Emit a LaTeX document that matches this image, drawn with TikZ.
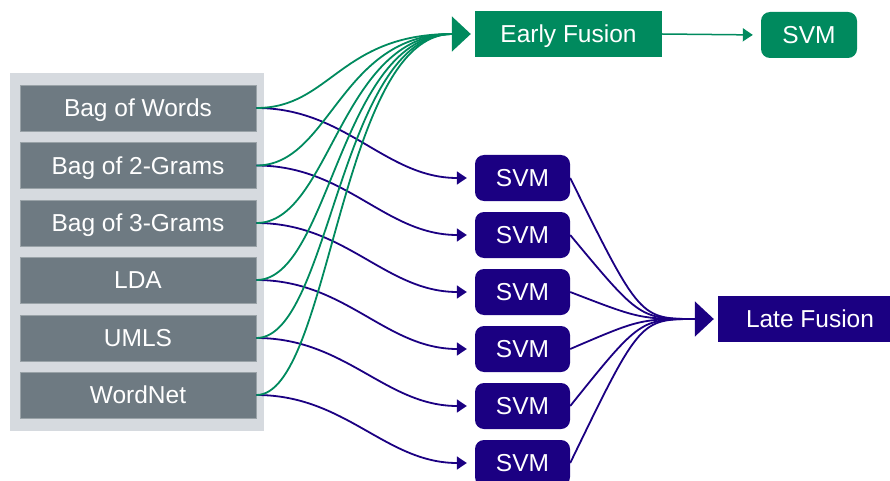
\documentclass[tikz,border=0pt]{standalone}
\usepackage{fontspec}
\setmainfont{Liberation Sans}
\usetikzlibrary{arrows.meta}
\definecolor{efgreen}{HTML}{008A5E}
\definecolor{lfblue}{HTML}{1B0082}
\definecolor{featgray}{HTML}{6E7A82}
\definecolor{contgray}{HTML}{D6DADF}
\tikzset{
  txt/.style={text=white,font=\fontsize{24.5}{28}\selectfont,inner sep=0pt,anchor=center,text height=17.5pt,text depth=0pt},
  feat/.style={txt,fill=featgray,draw=featgray!70!white,line width=0.8pt,minimum width=236pt,minimum height=46pt},
  gbox/.style={txt,fill=efgreen,minimum height=46pt},
  bbox/.style={txt,fill=lfblue,minimum height=46pt},
  svmbox/.style={bbox,rounded corners=9pt,minimum width=95pt},
  gline/.style={draw=efgreen,line width=1.8pt},
  bline/.style={draw=lfblue,line width=1.8pt},
  smallhead/.style={-{Triangle[length=10pt 0,width=13pt 0]}},
  bighead/.style={-{Triangle[length=19pt 0,width=35pt 0]}}
}
\begin{document}
\begin{tikzpicture}[x=1pt,y=-1pt]
\useasboundingbox (0,0) rectangle (890,481);
\fill[contgray] (10,73) rectangle (264,431);
\node[feat] (f1) at (138,108) {Bag of Words};
\node[feat] (f2) at (138,165.5) {Bag of 2-Grams};
\node[feat] (f3) at (138,223) {Bag of 3-Grams};
\node[feat] (f4) at (138,280) {LDA};
\node[feat] (f5) at (138,338) {UMLS};
\node[feat] (f6) at (138,395) {WordNet};

\node[gbox,minimum width=187pt] (ef) at (568.5,34) {Early Fusion};
\node[gbox,rounded corners=9pt,minimum width=96pt] (svmT) at (809,35) {SVM};
\node[bbox,minimum width=184pt] (lf) at (810,319) {Late Fusion};

\node[svmbox] (s1) at (522.5,178) {SVM};
\node[svmbox] (s2) at (522.5,235) {SVM};
\node[svmbox] (s3) at (522.5,292) {SVM};
\node[svmbox] (s4) at (522.5,349) {SVM};
\node[svmbox] (s5) at (522.5,406) {SVM};
\node[svmbox] (s6) at (522.5,463) {SVM};

\coordinate (gconv) at (452,34);
\coordinate (lconv) at (696,319);

% blue feature -> svm
\foreach \i in {1,...,6}{
  \draw[bline,smallhead,shorten >=8pt] (f\i.east) to[out=0,in=180] (s\i.west);
}
% green feature -> early fusion
\foreach \i in {1,...,6}{
  \draw[gline] (f\i.east) .. controls ([xshift=74pt]f\i.east) and (340,34) .. (gconv);
}
\draw[gline,bighead,shorten >=4pt] (gconv) -- (ef.west);
\draw[draw=efgreen,line width=1.5pt,smallhead,shorten >=8pt] (ef.east) -- (svmT.west);

% svm -> late fusion
\foreach \i in {1,...,6}{
  \draw[bline] (s\i.east) .. controls (640,319) .. (lconv);
}
\draw[bline,bighead,shorten >=4pt] (lconv) -- (lf.west);
\end{tikzpicture}
\end{document}
